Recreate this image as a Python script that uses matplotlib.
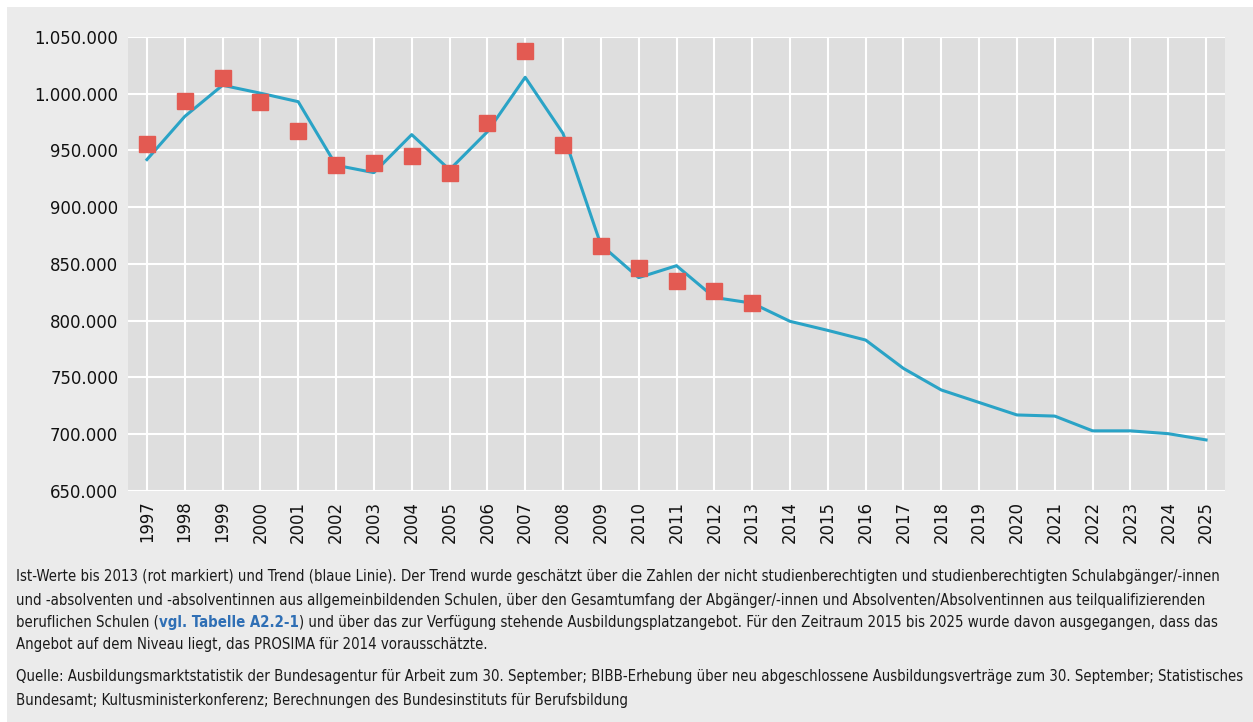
import matplotlib.pyplot as plt
from matplotlib.patches import Rectangle

# data
years = list(range(1997, 2026))
trend = [942000, 980000, 1007500, 1000500, 993000, 937000, 930500, 964000,
         933000, 966500, 1014500, 965000, 867000, 838000, 848500, 820500,
         815500, 799500, 791500, 783000, 758000, 739000, 728000, 717000,
         716000, 703000, 703000, 700500, 695000]
ist_years = list(range(1997, 2014))
ist_values = [955500, 993600, 1014200, 992400, 967500, 937200, 939300, 945400,
              930400, 974500, 1037900, 955100, 866100, 846800, 835000, 826200,
              816000]
y_ticks = list(range(650000, 1050001, 50000))

note_1 = ("Ist-Werte bis 2013 (rot markiert) und Trend (blaue Linie). Der Trend wurde geschätzt über die Zahlen "
          "der nicht studienberechtigten und studienberechtigten Schulabgänger/-innen")
note_2 = ("und -absolventen und -absolventinnen aus allgemeinbildenden Schulen, über den Gesamtumfang der "
          "Abgänger/-innen und Absolventen/Absolventinnen aus teilqualifizierenden")
note_3a = "beruflichen Schulen ("
note_3b = "vgl. Tabelle A2.2-1"
note_3c = (") und über das zur Verfügung stehende Ausbildungsplatzangebot. Für den Zeitraum 2015 bis 2025 "
           "wurde davon ausgegangen, dass das")
note_4 = "Angebot auf dem Niveau liegt, das PROSIMA für 2014 vorausschätzte."
source_1 = ("Quelle: Ausbildungsmarktstatistik der Bundesagentur für Arbeit zum 30. September; BIBB-Erhebung über "
            "neu abgeschlossene Ausbildungsverträge zum 30. September; Statistisches")
source_2 = "Bundesamt; Kultusministerkonferenz; Berechnungen des Bundesinstituts für Berufsbildung"

plt.rcParams['font.family'] = ['DejaVu Sans']
plt.rcParams['font.stretch'] = 'condensed'

W, H = 1253, 722
fig = plt.figure(figsize=(W / 100, H / 100), dpi=100, facecolor='white')

# grey panel behind everything
fig.patches.append(Rectangle((7 / W, 0), 1 - 7 / W, 1 - 7 / H, transform=fig.transFigure,
                             facecolor='#ebebeb', edgecolor='none', zorder=-1))

ax = fig.add_axes([128 / W, 1 - 491 / H, (1225 - 128) / W, (491 - 37) / H])
ax.set_facecolor('#dedede')
ax.plot(years, trend, color='#2aa3c6', lw=2.2, zorder=3)
ax.plot(ist_years, ist_values, ls='none', marker='s', ms=11.5, color='#e35a52', zorder=4)

ax.set_xlim(1996.5, 2025.5)
ax.set_ylim(650000, 1050000)
ax.set_xticks(years)
ax.set_xticklabels([str(y) for y in years], rotation=90)
ax.set_yticks(y_ticks)
ax.set_yticklabels([f"{v:,.0f}".replace(',', '.') for v in y_ticks])
ax.tick_params(axis='both', length=0, labelsize=13.2, colors='#111111')
ax.tick_params(axis='y', pad=7)
ax.tick_params(axis='x', pad=7)
ax.grid(True, color='white', lw=1.5)
ax.set_axisbelow(True)
for s in ax.spines.values():
    s.set_visible(False)

fs = 11
tc = '#1a1a1a'
x0 = 16 / W
texts = []
texts.append(fig.text(x0, 1 - 577 / H, note_1, fontsize=fs, color=tc, va='center'))
texts.append(fig.text(x0, 1 - 600 / H, note_2, fontsize=fs, color=tc, va='center'))
t = fig.text(x0, 1 - 622 / H, note_3a, fontsize=fs, color=tc, va='center')
texts.append(t)
t = ax.annotate(note_3b, xy=(1, 0), xycoords=t, fontsize=fs, color='#2f6fb5',
                fontweight='bold', va='bottom', ha='left', annotation_clip=False)
texts.append(t)
texts.append(ax.annotate(note_3c, xy=(1, 0), xycoords=t, fontsize=fs, color=tc,
                         va='bottom', ha='left', annotation_clip=False))
texts.append(fig.text(x0, 1 - 645 / H, note_4, fontsize=fs, color=tc, va='center'))
texts.append(fig.text(x0, 1 - 677 / H, source_1, fontsize=fs, color=tc, va='center'))
texts.append(fig.text(x0, 1 - 700 / H, source_2, fontsize=fs, color=tc, va='center'))

# fit the footer so the first line ends where it does in the original
r = fig.canvas.get_renderer()
w = texts[0].get_window_extent(r).width
new_fs = fs * 1206 / w
for tx in texts:
    tx.set_fontsize(new_fs)

fig.savefig('out.png', dpi=100, facecolor='white')
